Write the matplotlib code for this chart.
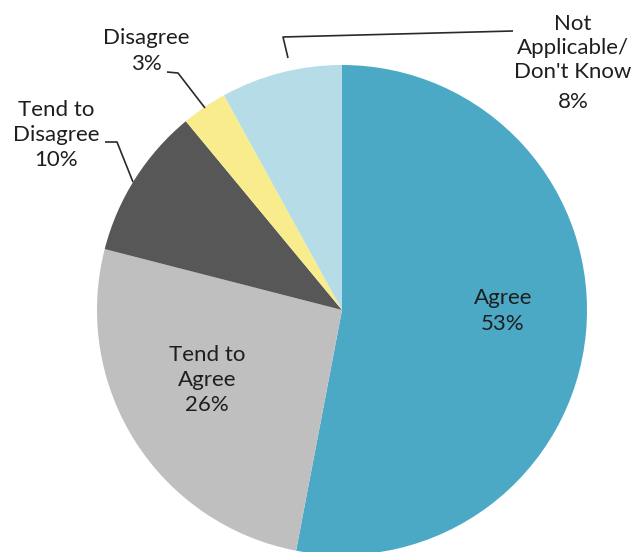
import matplotlib.pyplot as plt

# survey shares, clockwise from 12 o'clock
categories = ["Agree", "Tend to Agree", "Tend to Disagree", "Disagree", "Not Applicable/ Don't Know"]
shares = [53, 26, 10, 3, 8]
colors = ["#4BA9C6", "#BFBFBF", "#575757", "#F8EC8C", "#B5DCE7"]

W, H = 637, 552
plt.rcParams['font.family'] = ['Lato', 'DejaVu Sans']

fig = plt.figure(figsize=(W / 100, H / 100), dpi=100)
ax = fig.add_axes([0, 0, 1, 1])

cx, cy, r = 342, 310, 245
ax.pie(shares, colors=colors, startangle=90, counterclock=False,
       center=(cx, H - cy), radius=r, wedgeprops=dict(linewidth=0))
ax.set_xlim(0, W)
ax.set_ylim(0, H)
ax.set_aspect('equal')
ax.axis('off')

def px(x, y):
    return x, H - y

txt = dict(fontsize=16, color='#1e1e1e', ha='center', va='center', linespacing=1.32)

ax.text(*px(503, 311), "Agree\n53%", **txt)
ax.text(*px(207, 380), "Tend to\nAgree\n26%", **txt)
ax.text(*px(56, 135), "Tend to\nDisagree\n10%", **txt)
ax.text(*px(146, 51), "Disagree\n3%", **txt)
ax.text(*px(573, 48), "Not\nApplicable/\nDon't Know", **{**txt, 'linespacing': 1.22})
ax.text(*px(573, 102), "8%", **txt)

# leader lines
lc = dict(color='#2a2a2a', linewidth=1.2, solid_capstyle='butt')
for pts in ([(105, 142), (117, 142), (133, 182)],
            [(167, 72), (178, 73), (205, 108)],
            [(288, 58), (283, 37), (513, 31)]):
    xs, ys = zip(*[px(a, b) for a, b in pts])
    ax.plot(xs, ys, **lc)

fig.savefig("out.png", dpi=100)
